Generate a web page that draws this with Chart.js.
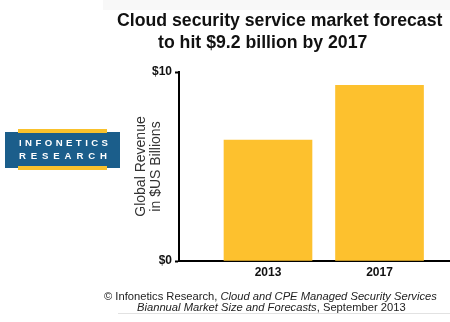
<!DOCTYPE html>
<html>
<head>
<meta charset="utf-8">
<script src="https://cdn.jsdelivr.net/npm/chart.js@4.4.1/dist/chart.umd.min.js"></script>
<style>
  html, body { margin: 0; padding: 0; background: #fff; }
  body { width: 450px; height: 322px; position: relative; overflow: hidden; font-family: "Liberation Sans", Arial, sans-serif; }
  #c { position: absolute; left: 0; top: 0; }
  .topband { position: absolute; left: 103px; top: 0; width: 347px; height: 10px; background: #f8f8f8; }
  .t { position: absolute; font-weight: bold; font-size: 17.7px; color: #111; white-space: nowrap; line-height: 22px; }
  .logo { position: absolute; left: 5px; top: 132px; width: 115px; height: 36px; background: #1b5e8b; }
  .ybar { position: absolute; left: 18px; width: 89px; height: 4px; background: #f9c12c; }
  .lt { position: absolute; left: 19px; width: 89px; display: flex; justify-content: space-between; color: #fff; font-weight: bold; font-size: 9.6px; line-height: 10px; }
  .f { position: absolute; font-size: 11.2px; color: #222; white-space: nowrap; line-height: 12px; }
  .rule { position: absolute; left: 118px; top: 313px; width: 332px; height: 1px; background: #e2e2e2; }
</style>
</head>
<body>
<div class="topband"></div>
<canvas id="c" width="450" height="322"></canvas>
<div class="t" style="left:117px; top:9px;">Cloud security service market forecast</div>
<div class="t" style="left:158px; top:31px;">to hit $9.2 billion by 2017</div>
<div class="logo"></div>
<div class="ybar" style="top:129px;"></div>
<div class="ybar" style="top:166px;"></div>
<div class="lt" style="top:138px;"><span>I</span><span>N</span><span>F</span><span>O</span><span>N</span><span>E</span><span>T</span><span>I</span><span>C</span><span>S</span></div>
<div class="lt" style="top:151px; width:88px;"><span>R</span><span>E</span><span>S</span><span>E</span><span>A</span><span>R</span><span>C</span><span>H</span></div>
<div class="f" style="left:104px; top:290px;">© Infonetics Research, <i>Cloud and CPE Managed Security Services</i></div>
<div class="f" style="left:137px; top:301px;"><i>Biannual Market Size and Forecasts</i>, September 2013</div>
<div class="rule"></div>
<script>
const categories = ['2013', '2017'];
const revenue = [6.4, 9.3];
const yTicks = [0, 10];
const yTitle = ['Global Revenue', 'in $US Billions'];

const FONT = '"Liberation Sans", Arial, sans-serif';

new Chart(document.getElementById('c'), {
  type: 'bar',
  data: {
    datasets: [{
      data: categories.map((c, i) => ({ x: i, y: revenue[i] })),
      backgroundColor: '#fdc12e',
      borderWidth: 0,
      barThickness: 88
    }]
  },
  options: {
    responsive: false,
    animation: false,
    events: [],
    layout: { padding: { left: 134, top: 72, right: 0, bottom: 39 } },
    plugins: { legend: { display: false }, tooltip: { enabled: false }, title: { display: false } },
    scales: {
      x: {
        type: 'linear',
        offset: false,
        min: -0.798,
        max: 1.632,
        grid: { display: false, drawTicks: false },
        border: { display: true, color: '#000', width: 2 },
        afterBuildTicks: (s) => { s.ticks = categories.map((c, i) => ({ value: i })); },
        afterFit: (s) => { s.height = 22; },
        ticks: {
          padding: 4,
          autoSkip: false,
          maxRotation: 0,
          color: '#111',
          font: { family: FONT, size: 12, weight: 'bold' },
          callback: (v) => categories[v]
        }
      },
      y: {
        min: 0,
        max: 10,
        grid: { display: true, drawOnChartArea: false, drawTicks: true, tickLength: 4, color: '#000', tickColor: '#000', tickWidth: 2 },
        border: { display: true, color: '#000', width: 2 },
        afterBuildTicks: (s) => { s.ticks = yTicks.map(v => ({ value: v })); },
        afterFit: (s) => { s.width = 45; },
        ticks: {
          padding: 3,
          color: '#111',
          font: { family: FONT, size: 12, weight: 'bold' },
          callback: (v) => '$' + v
        },
        title: {
          display: true,
          text: yTitle,
          color: '#333',
          padding: 0,
          font: { family: FONT, size: 14, lineHeight: 1.07 }
        }
      }
    }
  }
});
</script>
</body>
</html>
